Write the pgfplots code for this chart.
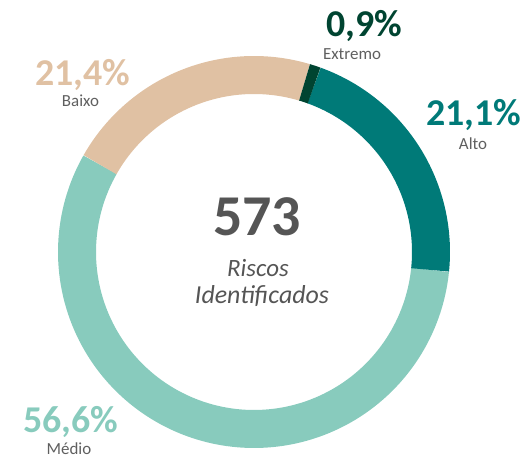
\documentclass[border=0pt]{standalone}
\usepackage{fontspec}
\setmainfont{Carlito}
\usepackage{pgfplots}
\pgfplotsset{compat=1.18}
\definecolor{cExt}{HTML}{004431}
\definecolor{cAlto}{HTML}{007A78}
\definecolor{cMed}{HTML}{88CBBD}
\definecolor{cBai}{HTML}{E0C1A3}
\definecolor{cTxt}{HTML}{555555}
\definecolor{cLbl}{HTML}{5F5F5F}
\begin{document}
\begin{tikzpicture}
\begin{axis}[width=523bp, height=458bp, scale only axis,
  xmin=-254, xmax=269, ymin=-206, ymax=252, hide axis, clip=false]
% shares (%): Extremo 0.9, Alto 21.1, Medio 56.6, Baixo 21.4 (clockwise)
\pgfmathsetmacro{\aA}{73.4}
\pgfmathsetmacro{\aB}{\aA-3.6*0.9}
\pgfmathsetmacro{\aC}{\aB-3.6*21.1}
\pgfmathsetmacro{\aD}{\aC-3.6*56.6}
\pgfmathsetmacro{\aE}{\aD-3.6*21.4}
\path (axis cs:-254,-206) rectangle (axis cs:269,252);
\addplot[data cs=polar, domain=\aD:\aC, samples=120, line width=38bp, draw=cMed] (x,177);
\addplot[data cs=polar, domain=\aE:\aD, samples=60, line width=38bp, draw=cBai] (x,177);
\addplot[data cs=polar, domain=\aC:\aB, samples=60, line width=38bp, draw=cAlto] (x,177);
\addplot[data cs=polar, domain=\aB:\aA, samples=8, line width=38bp, draw=cExt] (x,177);
% labels
\node[anchor=base, inner sep=0, text=cExt, font=\fontsize{38}{38}\selectfont\bfseries] at (axis cs:110,215) {0,9\%};
\node[anchor=base, inner sep=0, text=cLbl, font=\fontsize{17}{17}\selectfont] at (axis cs:98,192) {Extremo};
\node[anchor=base, inner sep=0, text=cAlto, font=\fontsize{38}{38}\selectfont\bfseries] at (axis cs:220,126) {21,1\%};
\node[anchor=base, inner sep=0, text=cLbl, font=\fontsize{17}{17}\selectfont] at (axis cs:219,102) {Alto};
\node[anchor=base, inner sep=0, text=cBai, font=\fontsize{38}{38}\selectfont\bfseries] at (axis cs:-171,166) {21,4\%};
\node[anchor=base, inner sep=0, text=cLbl, font=\fontsize{17}{17}\selectfont] at (axis cs:-173.5,145) {Baixo};
\node[anchor=base, inner sep=0, text=cMed, font=\fontsize{38}{38}\selectfont\bfseries] at (axis cs:-183.5,-180) {56,6\%};
\node[anchor=base, inner sep=0, text=cLbl, font=\fontsize{17}{17}\selectfont] at (axis cs:-185,-202) {Médio};
\node[anchor=base, inner sep=0, text=cTxt, font=\fontsize{58}{58}\selectfont\bfseries] at (axis cs:3,16) {573};
\node[anchor=base, inner sep=0, text=cTxt, font=\fontsize{25}{25}\selectfont\itshape] at (axis cs:4,-25) {Riscos};
\node[anchor=base, inner sep=0, text=cTxt, font=\fontsize{26}{26}\selectfont\itshape] at (axis cs:8,-52) {Identificados};
\end{axis}
\end{tikzpicture}
\end{document}
